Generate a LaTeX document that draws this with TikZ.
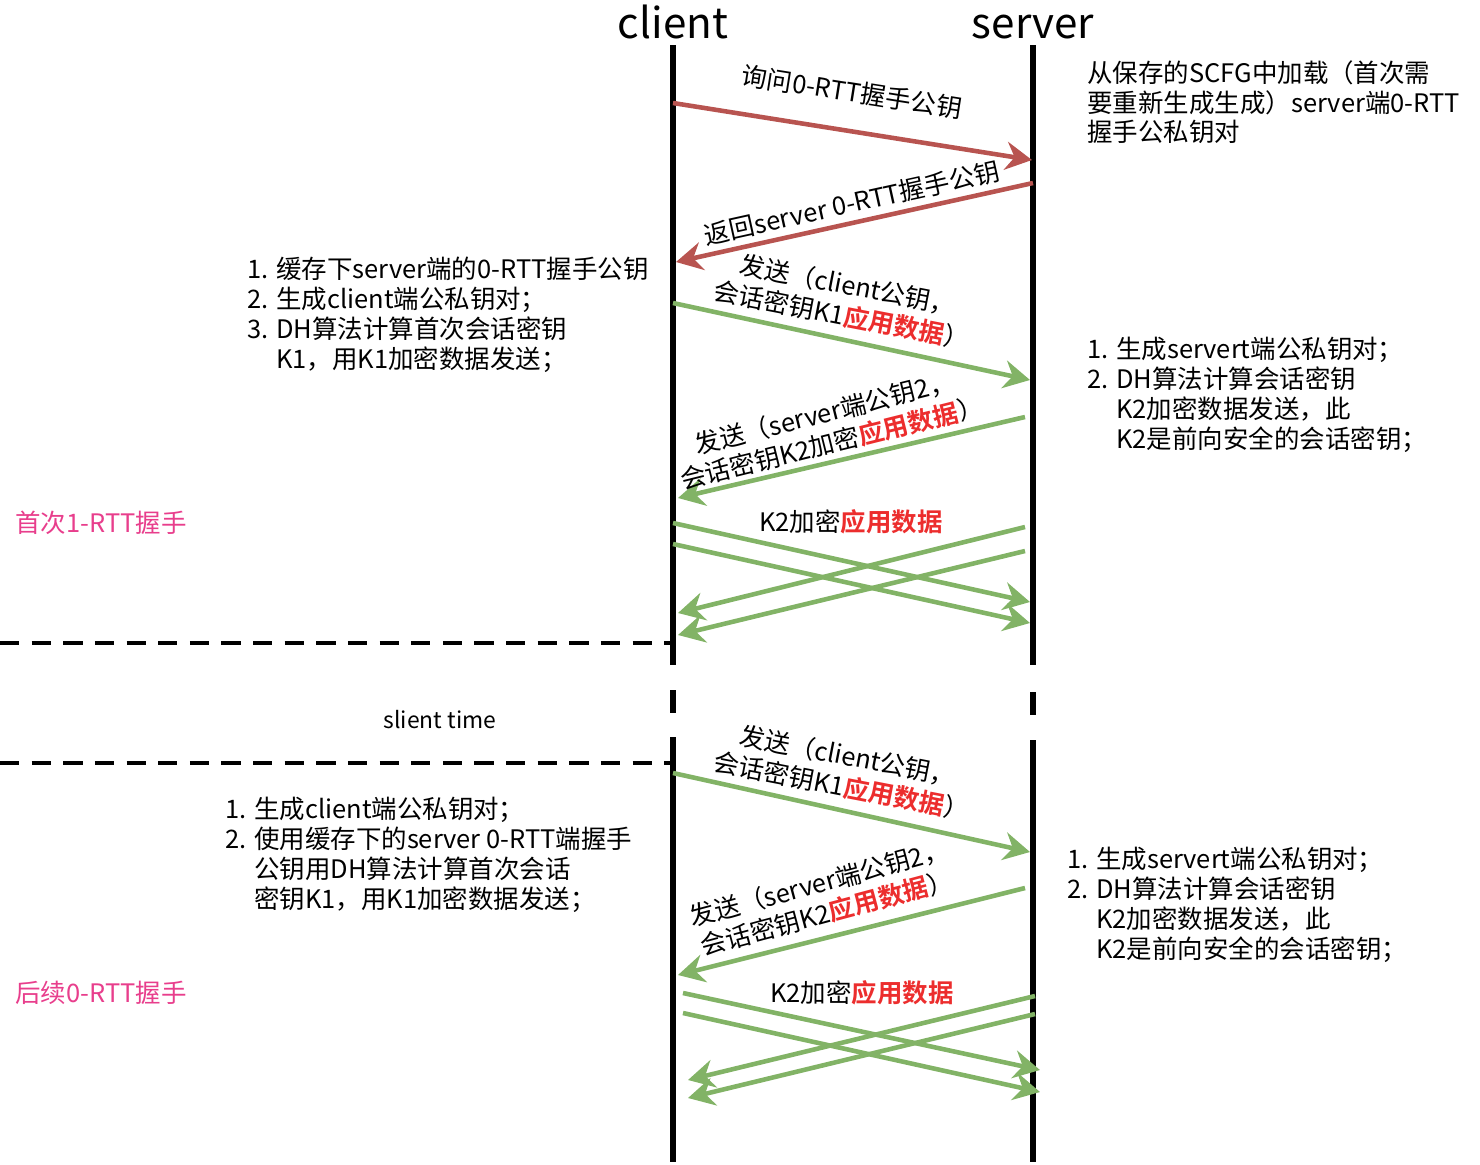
\documentclass[tikz,border=0pt]{standalone}
\usepackage{fontspec}
\setmainfont{Noto Sans CJK SC}[BoldFont={Noto Sans CJK SC Bold}]
\usetikzlibrary{arrows.meta}
\definecolor{msg-red}{RGB}{184, 84, 80}
\definecolor{msg-green}{RGB}{130, 179, 102}
\definecolor{data-red}{RGB}{236, 45, 45}
\definecolor{phase-pink}{RGB}{232, 62, 140}

\tikzset{
  msg/.style={line width=2.6pt, -{Stealth[length=15pt, width=16pt, inset=5pt]}},
  note/.style={font=\fontsize{14.5}{17}\selectfont, align=left, anchor=north west, inner sep=0pt},
  msglabel/.style={font=\fontsize{14.5}{17.5}\selectfont, align=center, inner sep=0pt},
  lifeline/.style={line width=3.4pt},
  phaseline/.style={line width=2.6pt, dash pattern=on 11pt off 7pt}
}
\newcommand{\appdata}{\textcolor{data-red}{\textbf{应用数据}}}

\begin{document}
\begin{tikzpicture}[x=0.02cm, y=-0.02cm]
\useasboundingbox (0,0) rectangle (1480,1164);

% lifelines
\node[font=\fontsize{24}{28}\selectfont, inner sep=0pt, anchor=base] (client) at (673,38) {client};
\node[font=\fontsize{24}{28}\selectfont, inner sep=0pt, anchor=base] (server) at (1033,38) {server};
\draw[lifeline] (673,45) -- (673,665);
\draw[lifeline] (673,690) -- (673,713);
\draw[lifeline] (673,737) -- (673,1162);
\draw[lifeline] (1033,45) -- (1033,665);
\draw[lifeline] (1033,692) -- (1033,715);
\draw[lifeline] (1033,740) -- (1033,1162);

% phase separators
\coordinate (sep1-l) at (0,643);
\coordinate (sep1-r) at (673,643);
\coordinate (sep2-l) at (0,763);
\coordinate (sep2-r) at (673,763);
\draw[phaseline] (sep1-l) -- (sep1-r);
\draw[phaseline] (sep2-l) -- (sep2-r);

% first 1-RTT handshake
\coordinate (c-ask) at (673,103);
\coordinate (s-ask) at (1032,160);
\draw[msg, msg-red] (c-ask) -- (s-ask);
\node[msglabel, rotate=-9] (ask) at (852,92) {询问0-RTT握手公钥};

\coordinate (s-ret) at (1033,183);
\coordinate (c-ret) at (676,262);
\draw[msg, msg-red] (s-ret) -- (c-ret);
\node[msglabel, rotate=12.5] (ret) at (852,203) {返回server 0-RTT握手公钥};

\coordinate (c-k1) at (673,303);
\coordinate (s-k1) at (1030,380);
\draw[msg, msg-green] (c-k1) -- (s-k1);
\node[msglabel, rotate=-11] (k1) at (845,300) {发送（client公钥，\\会话密钥K1\appdata）};

\coordinate (s-k2) at (1025,417);
\coordinate (c-k2) at (678,498);
\draw[msg, msg-green] (s-k2) -- (c-k2);
\node[msglabel, rotate=14] (k2) at (828,428) {发送（server端公钥2，\\会话密钥K2加密\appdata）};

\coordinate (c-d1) at (673,523);
\coordinate (s-d1) at (1030,602);
\coordinate (c-d2) at (673,544);
\coordinate (s-d2) at (1030,623);
\coordinate (s-d3) at (1025,527);
\coordinate (c-d3) at (678,613);
\coordinate (s-d4) at (1025,551);
\coordinate (c-d4) at (678,635);
\draw[msg, msg-green] (c-d1) -- (s-d1);
\draw[msg, msg-green] (c-d2) -- (s-d2);
\draw[msg, msg-green] (s-d3) -- (c-d3);
\draw[msg, msg-green] (s-d4) -- (c-d4);
\node[msglabel] (data1) at (851,522) {K2加密\appdata};

\node[note] (cnote1) at (247,257) {1. 缓存下server端的0-RTT握手公钥\\2. 生成client端公私钥对；\\3. DH算法计算首次会话密钥\\\hphantom{3. }K1，用K1加密数据发送；};
\node[note] (snote0) at (1087,60) {从保存的SCFG中加载（首次需\\要重新生成生成）server端0-RTT\\握手公私钥对};
\node[note] (snote1) at (1087,337) {1. 生成servert端公私钥对；\\2. DH算法计算会话密钥\\\hphantom{2. }K2加密数据发送，此\\\hphantom{2. }K2是前向安全的会话密钥；};
\node[note, anchor=west, text=phase-pink] (phase1) at (15,523) {首次1-RTT握手};

\node[font=\fontsize{13}{16}\selectfont, inner sep=0pt] (idle) at (440,720) {slient time};

% later 0-RTT handshake
\coordinate (c-k1b) at (673,773);
\coordinate (s-k1b) at (1030,852);
\draw[msg, msg-green] (c-k1b) -- (s-k1b);
\node[msglabel, rotate=-11] (k1b) at (845,771) {发送（client公钥，\\会话密钥K1\appdata）};

\coordinate (s-k2b) at (1025,888);
\coordinate (c-k2b) at (678,975);
\draw[msg, msg-green] (s-k2b) -- (c-k2b);
\node[msglabel, rotate=15] (k2b) at (823,898) {发送（server端公钥2，\\会话密钥K2\appdata）};

\coordinate (c-e1) at (683,993);
\coordinate (s-e1) at (1040,1070);
\coordinate (c-e2) at (683,1013);
\coordinate (s-e2) at (1040,1092);
\coordinate (s-e3) at (1035,996);
\coordinate (c-e3) at (688,1080);
\coordinate (s-e4) at (1035,1014);
\coordinate (c-e4) at (688,1098);
\draw[msg, msg-green] (c-e1) -- (s-e1);
\draw[msg, msg-green] (c-e2) -- (s-e2);
\draw[msg, msg-green] (s-e3) -- (c-e3);
\draw[msg, msg-green] (s-e4) -- (c-e4);
\node[msglabel] (data2) at (862,993) {K2加密\appdata};

\node[note] (cnote2) at (225,797) {1. 生成client端公私钥对；\\2. 使用缓存下的server 0-RTT端握手\\\hphantom{2. }公钥用DH算法计算首次会话\\\hphantom{2. }密钥K1，用K1加密数据发送；};
\node[note] (snote2) at (1067,847) {1. 生成servert端公私钥对；\\2. DH算法计算会话密钥\\\hphantom{2. }K2加密数据发送，此\\\hphantom{2. }K2是前向安全的会话密钥；};
\node[note, anchor=west, text=phase-pink] (phase2) at (15,993) {后续0-RTT握手};

\end{tikzpicture}
\end{document}
